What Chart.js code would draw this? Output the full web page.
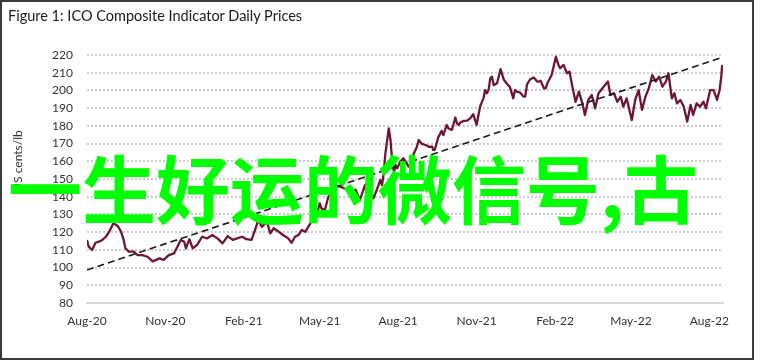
<!DOCTYPE html>
<html>
<head>
<meta charset="utf-8">
<script src="https://cdn.jsdelivr.net/npm/chart.js@4.4.1/dist/chart.umd.min.js"></script>
<style>
  html, body { margin: 0; padding: 0; background: #ffffff; }
  #wrap { position: relative; width: 757px; height: 364px; overflow: hidden; background: #ffffff; }
  #c { position: absolute; left: 0; top: 0; }
  #frame { position: absolute; left: 0; top: 0; width: 750px; height: 356px; border: 2px solid #3a3a3a; pointer-events: none; }
  #title { position: absolute; left: 8px; top: 8px; font: 14.5px Lato, "Noto Sans", sans-serif; line-height: 15px; color: #1a1a1a; white-space: nowrap; }
  #ylab { position: absolute; left: 17px; top: 161px; transform: translate(-50%, -50%) rotate(-90deg); font: 12px Lato, "Noto Sans", sans-serif; color: #333; white-space: nowrap; }
  #wm { position: absolute; left: 8px; top: 149px; font: bold 74px "Noto Sans CJK SC", sans-serif; line-height: 74px; color: #00ff00; white-space: nowrap; pointer-events: none; }
</style>
</head>
<body>
<div id="wrap">
  <canvas id="c" width="757" height="364"></canvas>
  <div id="title">Figure 1: ICO Composite Indicator Daily Prices</div>
  <div id="ylab">US cents/lb</div>
  <div id="wm">一生好运的微信号,古</div>
  <div id="frame"></div>
</div>
<script>
// Days counted from 1 Aug 2020
const days = [0,2,6,10,14,18,22,26,31,36,40,43,45,49,55,59,65,71,77,85,90,96,102,106,110,114,116,120,124,129,135,141,147,153,159,165,171,176,182,187,193,197,201,205,211,215,219,225,230,236,240,244,248,252,256,262,266,271,273,275,279,283,289,293,297,303,309,315,320,326,328,332,336,340,344,346,348,350,354,356,358,360,362,364,367,371,375,377,379,383,387,389,393,397,401,405,406,408,412,416,418,422,424,428,432,434,436,438,442,446,450,453,457,461,465,467,469,471,473,475,477,481,485,489,493,496,500,502,504,508,512,514,516,518,520,524,528,530,532,536,538,540,541,545,550,553,555,559,563,566,569,573,577,581,584,588,592,596,600,606,611,614,618,622,626,629,633,639,643,647,651,655,659,663,667,671,675,679,682,686,689,692,696,700,704,708,711,715,719,723,726,731,735,739,742,744,745];
const prices = [115.6,111.8,109.9,114,114.6,115.6,117.4,120.2,125,123.5,120.2,115.6,110.9,109,109,107.1,107,106.1,103.5,105.2,104.3,107,108,111.8,115.6,114.6,110.9,116,110.9,112.7,117.4,116.5,118.4,116.5,113.7,117.8,115.6,116.5,117.4,116,115.6,121.2,126.9,123,125.9,119.3,122.2,120.2,118.4,116.5,114,117.4,118.4,121.2,120.2,125,128.7,132.5,136.3,133.4,132.5,140,143,146,145.7,144.5,142,144,138,146.6,141.9,143,139.1,144,149.4,146.6,153,164.5,178.6,172,160,154,157.9,156,159.5,161.7,158.9,157,158,164,168.2,172,169.8,169.2,168.2,168.2,166.4,166.5,173.5,177.2,174.8,180.5,178.5,177.7,184.7,181.4,180.5,182,182.8,183,184.5,186.6,180.5,190.8,195.5,200.2,198.4,200.2,206.8,207.8,203,204,212,206,203.5,202,195.5,200.2,199.3,198.8,196.5,196.5,203,205,206.3,207.3,205,205,205.5,201.2,201.2,204,205,208.7,219,214.4,212.5,214.4,209.7,210.6,203,193.6,199.3,192.7,186.1,194.6,197.4,189.9,198.4,202.1,205,197.4,198.4,193.6,196.5,190.8,195.5,183.3,194.6,200.2,189,196.5,201.2,208.7,205,207.8,202.1,205,209.7,195.5,198.4,192.7,194.6,190.8,182.4,191.8,186.1,192.7,190.8,193.6,189.9,200.2,200.2,194.6,200.2,207.8,214.4];
const trendDays = [0, 745];
const trendValues = [98.6, 218.7];
const tickDays = [0, 92, 184, 273, 365, 457, 549, 638, 730];
const tickLabels = ['Aug-20','Nov-20','Feb-21','May-21','Aug-21','Nov-21','Feb-22','May-22','Aug-22'];

const priceData = days.map((d, i) => ({x: d, y: prices[i]}));
const trendData = trendDays.map((d, i) => ({x: d, y: trendValues[i]}));

new Chart(document.getElementById('c'), {
  type: 'line',
  data: {
    datasets: [
      { data: priceData, borderColor: '#6e1630', borderWidth: 2.3, pointRadius: 0, tension: 0, borderJoinStyle: 'round', order: 2 },
      { data: trendData, borderColor: '#1a1a1a', borderWidth: 1.6, borderDash: [7, 4], pointRadius: 0, tension: 0, order: 1 }
    ]
  },
  options: {
    responsive: false,
    animation: false,
    events: [],
    layout: { padding: { left: 0, right: 34, top: 55, bottom: 0 } },
    plugins: { legend: { display: false }, tooltip: { enabled: false }, title: { display: false } },
    scales: {
      x: {
        type: 'linear',
        min: 0, max: 746,
        afterFit: (s) => { s.height = 61; },
        afterBuildTicks: (s) => { s.ticks = tickDays.map(v => ({ value: v })); },
        grid: { display: true, drawOnChartArea: false, drawTicks: false },
        border: { display: true, color: '#d9d9d9', width: 2 },
        ticks: {
          autoSkip: false, maxRotation: 0, padding: 11, color: '#333333',
          font: { family: 'Lato, "Noto Sans", sans-serif', size: 12 },
          callback: (v, i) => tickLabels[i]
        }
      },
      y: {
        min: 80, max: 220,
        afterFit: (s) => { s.width = 87; },
        grid: { color: (ctx) => (ctx.tick && ctx.tick.value === 80) ? 'rgba(0,0,0,0)' : '#cccccc', lineWidth: 2, drawTicks: false },
        border: { display: false, dash: [2, 2] },
        ticks: {
          stepSize: 10, padding: 14, color: '#333333',
          font: { family: 'Lato, "Noto Sans", sans-serif', size: 12 }
        }
      }
    }
  }
});
</script>
</body>
</html>
